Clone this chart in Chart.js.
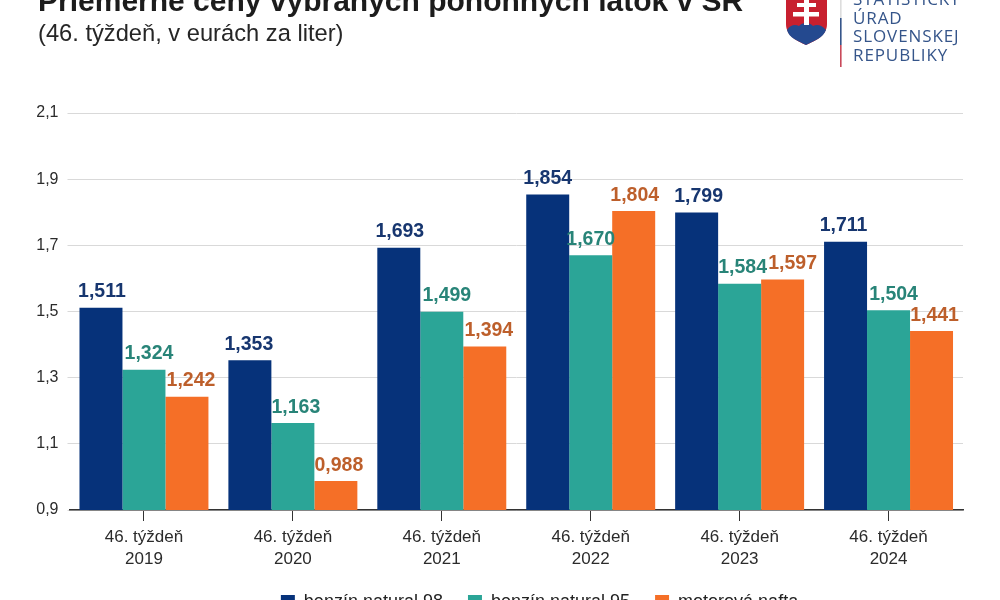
<!DOCTYPE html>
<html lang="sk">
<head>
<meta charset="utf-8">
<title>Priemerné ceny pohonných látok</title>
<script src="https://cdn.jsdelivr.net/npm/chart.js@4"></script>
<style>
  html, body { margin: 0; width: 1000px; height: 600px; overflow: hidden; background: #fff; }
  body { position: relative; font-family: "Liberation Sans", Arial, sans-serif; }
  canvas { position: absolute; left: 0; top: 0; }
  .title { position: absolute; left: 38px; top: -16px; font-size: 30px; font-weight: bold; color: #1c1c1c; white-space: nowrap; }
  .subtitle { position: absolute; left: 38px; top: 20px; font-size: 23.7px; color: #262626; white-space: nowrap; }
  .logo-text { position: absolute; left: 853px; top: -10px; font-family: "Open Sans", sans-serif; font-size: 17px; line-height: 18.6px; letter-spacing: 0.9px; color: #35558a; white-space: nowrap; }
  .logo { position: absolute; left: 785px; top: 0; }
</style>
</head>
<body>
<canvas id="chart" width="1000" height="624"></canvas>
<div class="title">Priemerné ceny vybraných pohonných látok v SR</div>
<div class="subtitle">(46. týždeň, v eurách za liter)</div>
<svg class="logo" width="60" height="70" viewBox="0 0 60 70">
  <path d="M1 0 V24 C1 36 12 41 21 45 C30 41 42 36 42 24 V0 Z" fill="#c8202f"/>
  <path d="M2 30 C5 25 10 24 14 26 C17 22 25 22 28 26 C32 24 37 25 41 30 C38 38 29 41 21 45 C13 41 4 38 2 30 Z" fill="#24498f"/>
  <path d="M19 0 H24 V3 H31 V7 H24 V12 H34 V16.5 H24 V25 H19 V16.5 H8 V12 H19 V7 H12 V3 H19 Z" fill="#fff"/>
  <rect x="55" y="0" width="1.6" height="18" fill="#dddddd"/>
  <rect x="55" y="18" width="1.6" height="27" fill="#35558a"/>
  <rect x="55" y="45" width="1.6" height="22" fill="#c8495a"/>
</svg>
<div class="logo-text">ŠTATISTICKÝ<br>ÚRAD<br>SLOVENSKEJ<br>REPUBLIKY</div>

<script>
// data z grafu
const years = ["2019", "2020", "2021", "2022", "2023", "2024"];
const natural98 = [1.511, 1.353, 1.693, 1.854, 1.799, 1.711];
const natural95 = [1.324, 1.163, 1.499, 1.670, 1.584, 1.504];
const nafta = [1.242, 0.988, 1.394, 1.804, 1.597, 1.441];
const yTicks = [0.9, 1.1, 1.3, 1.5, 1.7, 1.9, 2.1];

const comma = (v, d) => v.toFixed(d).replace(".", ",");

// hodnoty nad stĺpcami
const barLabels = {
  id: "barLabels",
  afterDatasetsDraw(chart) {
    const ctx = chart.ctx;
    ctx.save();
    ctx.font = "bold 19.5px 'Liberation Sans', Arial, sans-serif";
    ctx.textAlign = "center";
    ctx.textBaseline = "bottom";
    chart.data.datasets.forEach((ds, i) => {
      ctx.fillStyle = ds.labelColor;
      chart.getDatasetMeta(i).data.forEach((bar, j) => {
        ctx.fillText(comma(ds.data[j], 3), bar.x + ds.labelShift[j], bar.y - 6);
      });
    });
    ctx.restore();
  }
};

// legenda je v origináli posunutá doprava
const legendShift = {
  id: "legendShift",
  afterLayout(chart) {
    chart.legend.left = 116;
  }
};

new Chart(document.getElementById("chart"), {
  type: "bar",
  data: {
    labels: years.map(y => ["46. týždeň", y]),
    datasets: [
      { label: "benzín natural 98", data: natural98, backgroundColor: "#06327a", labelColor: "#17366f", labelShift: [1, -1, 1, 0, 2, -2] },
      { label: "benzín natural 95", data: natural95, backgroundColor: "#2ba597", labelColor: "#288478", labelShift: [5, 3, 5, 0, 3, 5] },
      { label: "motorová nafta", data: nafta, backgroundColor: "#f56f27", labelColor: "#bd5f2b", labelShift: [4, 3, 4, 1, 10, 3] }
    ]
  },
  options: {
    responsive: false,
    animation: false,
    layout: { padding: { top: 113, right: 37, left: 0, bottom: 3 } },
    datasets: { bar: { categoryPercentage: 0.866, barPercentage: 1 } },
    plugins: {
      title: { display: false },
      tooltip: { enabled: false },
      legend: {
        position: "bottom",
        labels: {
          boxWidth: 14,
          boxHeight: 14,
          padding: 25,
          color: "#222",
          font: { family: "'Liberation Sans', Arial, sans-serif", size: 18 }
        }
      }
    },
    scales: {
      x: {
        grid: { drawOnChartArea: false, drawTicks: true, tickLength: 11, color: "#333", offset: false },
        border: { color: "#333", width: 1.5 },
        ticks: {
          color: "#2b2b2b",
          padding: 5,
          maxRotation: 0,
          font: { family: "'Liberation Sans', Arial, sans-serif", size: 17, lineHeight: 1.3 }
        },
        afterFit(axis) { axis.height = 58; }
      },
      y: {
        min: 0.9,
        max: 2.1,
        afterBuildTicks(axis) { axis.ticks = yTicks.map(value => ({ value })); },
        grid: { color: "#d9d9d9", lineWidth: 1, tickLength: 2 },
        border: { display: false },
        ticks: {
          color: "#2b2b2b",
          padding: 9,
          font: { family: "'Liberation Sans', Arial, sans-serif", size: 16 },
          callback: v => comma(v, 1)
        },
        afterFit(axis) { axis.width = 69.5; }
      }
    }
  },
  plugins: [barLabels, legendShift]
});
</script>
</body>
</html>
